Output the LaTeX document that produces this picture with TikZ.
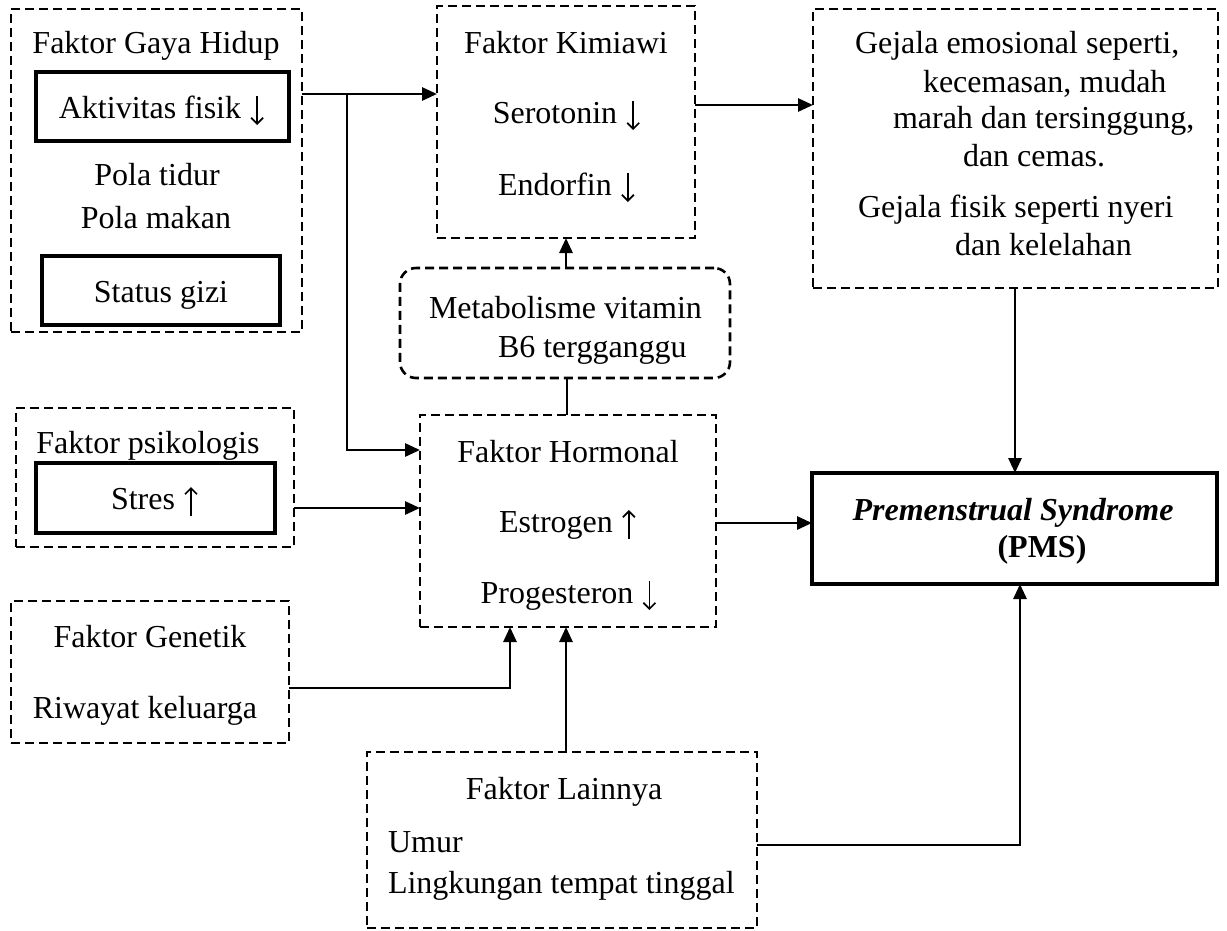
\documentclass[tikz,border=0pt]{standalone}
\usepackage{fontspec}
\setmainfont{Liberation Serif}
\usetikzlibrary{arrows.meta}
\newcommand{\dn}{\tikz[baseline=0pt,x=1pt,y=1pt]{\useasboundingbox (0,-7) rectangle (16,22);\draw[line width=1.7pt,-{Straight Barb[length=6pt,width=12pt]}] (8,22) -- (8,-7);}}
\newcommand{\upa}{\tikz[baseline=0pt,x=1pt,y=1pt]{\useasboundingbox (0,-7) rectangle (16,22);\draw[line width=1.7pt,-{Straight Barb[length=6pt,width=12pt]}] (8,-7) -- (8,22);}}
\begin{document}
\begin{tikzpicture}[x=1pt,y=-1pt,
  every node/.style={font=\fontsize{32}{37}\selectfont, inner sep=0pt, outer sep=0pt},
  dbox/.style={draw, line width=2.6pt, dash pattern=on 9pt off 5pt, rectangle},
  sbox/.style={draw, line width=4.5pt, rectangle},
  txt/.style={anchor=base},
  txl/.style={anchor=base west},
  arr/.style={line width=2.8pt, -{Triangle[length=15pt,width=13pt]}},
  ln/.style={line width=2.8pt}
]
\useasboundingbox (0,0) rectangle (1227,930);

% boxes
\node[dbox, minimum width=291pt, minimum height=323pt] (gaya) at (156.5,170.5) {};
\node[sbox, minimum width=253pt, minimum height=69pt] (akt) at (162.5,106.5) {};
\node[sbox, minimum width=238pt, minimum height=69pt] (gizi) at (161,290.5) {};
\node[dbox, minimum width=258pt, minimum height=232pt] (kim) at (566,122) {};
\node[dbox, minimum width=405pt, minimum height=279pt] (gej) at (1015.5,148.5) {};
\node[dbox, rounded corners=16pt, minimum width=330pt, minimum height=110pt] (met) at (565,323) {};
\node[dbox, minimum width=296pt, minimum height=212pt] (hor) at (568,521) {};
\node[dbox, minimum width=278pt, minimum height=139pt] (psi) at (155,477.5) {};
\node[sbox, minimum width=239pt, minimum height=70pt] (str) at (155.5,498) {};
\node[dbox, minimum width=278pt, minimum height=142pt] (gen) at (150,672) {};
\node[sbox, minimum width=405pt, minimum height=111pt] (pms) at (1014.5,528.5) {};
\node[dbox, minimum width=390pt, minimum height=176pt] (lain) at (562,840) {};

% texts
\node[txt] (t1) at (156,53) {Faktor Gaya Hidup};
\node[txt] (t2) at (162,118) {Aktivitas fisik \dn};
\node[txt] (t3) at (157,185) {Pola tidur};
\node[txt] (t4) at (156,228) {Pola makan};
\node[txt] (t5) at (161,302) {Status gizi};

\node[txt] (k1) at (566,53) {Faktor Kimiawi};
\node[txt] (k2) at (567,123) {Serotonin \dn};
\node[txt] (k3) at (567,195) {Endorfin \dn};

\node[txl] (g1) at (855,53) {Gejala emosional seperti,};
\node[txl] (g2) at (923,92) {kecemasan, mudah};
\node[txl] (g3) at (893,128) {marah dan tersinggung,};
\node[txl] (g4) at (963,166) {dan cemas.};
\node[txl] (g5) at (858,217) {Gejala fisik seperti nyeri};
\node[txl] (g6) at (955,255) {dan kelelahan};

\node[txl] (m1) at (429,318) {Metabolisme vitamin};
\node[txl] (m2) at (498,357) {B6 tergganggu};

\node[txt] (h1) at (568,462) {Faktor Hormonal};
\node[txt] (h2) at (568,532) {Estrogen \upa};
\node[txt] (h3) at (569,603) {Progesteron \dn};

\node[txt] (p1) at (148,453) {Faktor psikologis};
\node[txt] (p2) at (155,509) {Stres \upa};

\node[txt] (e1) at (150,647) {Faktor Genetik};
\node[txt] (e2) at (145,718) {Riwayat keluarga};

\node[txt] (s1) at (1013,520) {\bfseries\itshape Premenstrual Syndrome};
\node[txt] (s2) at (1042,557) {\bfseries (PMS)};

\node[txt] (l1) at (564,799) {Faktor Lainnya};
\node[txl] (l2) at (388,852) {Umur};
\node[txl] (l3) at (388,893) {Lingkungan tempat tinggal};

% connectors
\coordinate (br) at (347,94);
\draw[arr] (gaya.east |- 0,94) -- (kim.west |- 0,94);
\draw[arr] (br) -- (347,450) -- (hor.west |- 0,450);
\draw[arr] (psi.east |- 0,508) -- (hor.west |- 0,508);
\draw[arr] (kim.east |- 0,105) -- (gej.west |- 0,105);
\draw[arr] (gej.south -| 1015,0) -- (pms.north -| 1015,0);
\draw[ln] (hor.north -| 567,0) -- (met.south -| 567,0);
\draw[arr] (met.north -| 566,0) -- (kim.south -| 566,0);
\draw[arr] (hor.east |- 0,523) -- (pms.west |- 0,523);
\draw[arr] (gen.east |- 0,688) -- (510,688) -- (hor.south -| 510,0);
\draw[arr] (lain.north -| 566,0) -- (hor.south -| 566,0);
\draw[arr] (lain.east |- 0,845) -- (1020,845) -- (pms.south -| 1020,0);
\end{tikzpicture}
\end{document}
